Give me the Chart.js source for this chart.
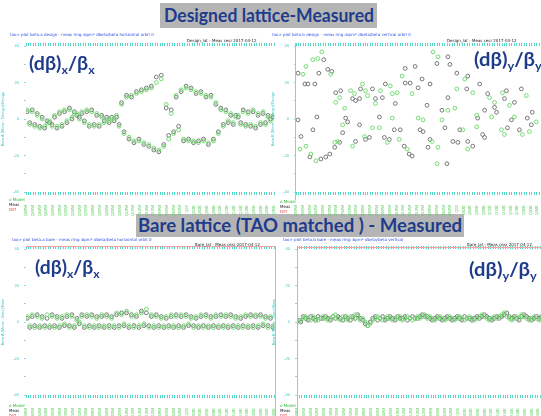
<!DOCTYPE html>
<html>
<head>
<meta charset="utf-8">
<script src="https://cdn.jsdelivr.net/npm/chart.js@4.4.1/dist/chart.umd.min.js"></script>
<style>
  body { margin: 0; width: 541px; height: 416px; overflow: hidden; background: #fff; position: relative; font-family: Lato, sans-serif; }
  canvas { position: absolute; }
  .ttl { position: absolute; background: #b5b5b5; }
  .ttl span, .lbl { position: absolute; color: #1f3c8c; font-weight: bold; white-space: nowrap; transform-origin: left top; }
  .ttl span { font-size: 18px; line-height: 22px; }
  .lbl { font-size: 19px; line-height: 20px; }
  .lbl sub { font-size: 12px; vertical-align: -4px; }
  .tiny { position: absolute; font-family: "DejaVu Sans", sans-serif; font-size: 4px; line-height: 5px; white-space: nowrap; }
  .frame { position: absolute; background: #f2a3a3; }
</style>
</head>
<body>

<div class="ttl" style="left:160px;top:3px;width:217px;height:25px"><span data-fit="210" style="left:4px;top:1px">Designed lattice-Measured</span></div>
<div class="ttl" style="left:136px;top:214px;width:328px;height:23px"><span data-fit="324" style="left:2px;top:0px">Bare lattice (TAO matched ) - Measured</span></div>

<canvas id="cx1" width="280" height="186" style="left:0;top:30px"></canvas>
<canvas id="cy1" width="280" height="186" style="left:270px;top:30px"></canvas>
<canvas id="cx2" width="280" height="186" style="left:0;top:233px"></canvas>
<canvas id="cy2" width="280" height="186" style="left:271px;top:233px"></canvas>

<div class="frame" style="left:295px;top:43px;width:1px;height:157px"></div>
<div class="frame" style="left:26px;top:246px;width:249px;height:1px"></div>
<div class="frame" style="left:275px;top:246px;width:1px;height:170px"></div>
<div class="frame" style="left:297px;top:247px;width:244px;height:1px"></div>
<div class="frame" style="left:297px;top:247px;width:1px;height:169px"></div>

<div class="lbl" data-fit="66" style="left:29px;top:53px">(dβ)<sub>x</sub>/β<sub>x</sub></div>
<div class="lbl" data-fit="68" style="left:474px;top:49px">(dβ)<sub>y</sub>/β<sub>y</sub></div>
<div class="lbl" data-fit="65" style="left:35px;top:257px">(dβ)<sub>x</sub>/β<sub>x</sub></div>
<div class="lbl" data-fit="68" style="left:469px;top:259px">(dβ)<sub>y</sub>/β<sub>y</sub></div>

<div class="tiny" style="left:10px;top:32px;color:#3050e0">tao&gt; plot beta.a  design - meas  ring::bpm*  dbeta/beta  horizontal  orbit 0</div>
<div class="tiny" style="left:187px;top:38px;color:#222">Design_lat - Meas   cesr   2017-04-12</div>
<div class="tiny" style="left:272px;top:32px;color:#3050e0">tao&gt; plot beta.b  design - meas  ring::bpm*  dbeta/beta  vertical  orbit 0</div>
<div class="tiny" style="left:447px;top:38px;color:#222">Design_lat - Meas   cesr   2017-04-12</div>
<div class="tiny" style="left:12px;top:237px;color:#3050e0">tao&gt; plot beta.a  bare - meas  ring::bpm*  dbeta/beta  horizontal  orbit 0</div>
<div class="tiny" style="left:195px;top:242px;color:#222">Bare_lat - Meas   cesr   2017-04-12</div>
<div class="tiny" style="left:283px;top:237px;color:#3050e0">tao&gt; plot beta.b  bare - meas  ring::bpm*  dbeta/beta  vertical</div>
<div class="tiny" style="left:467px;top:242px;color:#222">Bare_lat - Meas   cesr   2017-04-12</div>

<div class="tiny" style="left:9px;top:197px"><span style="color:#33bb33">o Model</span><br><span style="color:#222">Meas</span><br><span style="color:#e04040">Diff</span></div>
<div class="tiny" style="left:280px;top:199px"><span style="color:#33bb33">o Model</span><br><span style="color:#222">Meas</span><br><span style="color:#e04040">Diff</span></div>
<div class="tiny" style="left:9px;top:403px"><span style="color:#33bb33">o Model</span><br><span style="color:#222">Meas</span><br><span style="color:#e04040">Diff</span></div>
<div class="tiny" style="left:280px;top:403px"><span style="color:#33bb33">o Model</span><br><span style="color:#222">Meas</span><br><span style="color:#e04040">Diff</span></div>

<script>
// BPM names shown under each panel
const bpmNames = ["Q48W","Q46W","Q44W","Q42W","Q40W","Q38W","Q36W","Q34W","Q32W","Q30W",
  "Q28W","Q26W","Q24W","Q22W","Q20W","Q18W","Q16W","Q14W","Q12W","Q10W",
  "Q08W","Q06W","Q04W","Q02W","Q00","Q02E","Q04E","Q06E","Q08E","Q10E",
  "Q12E","Q14E","Q16E","Q18E","Q20E","Q22E","Q24E","Q26E"];

// designed lattice - measured, horizontal (one value per BPM, %)
const dxGreen = [5,-3,4,-4,2,-5,0,-4,-2,-1, -4,2,-4,4,-3,5,-1,5,1,3, 3,0,4,-2,5,-3,4,-4,3,-3, 1,-2,0,-1,0,0,2,
  -4,8,-8,12,-10,13,-12,14,-12,15, -13,16,-14,17,-16,20,-17,22,-15,8, -11,3,-8,13,-6,16,-11,17,-12,16,
  -12,15,-13,14,-12,13,-13,12,-12,9, -8,5,
  -4,4,-1,3,-2,1,2,-3,4,-4, 3,-3,5,-4,3,-2,4,-3,1,-1, 2];
const dxBlack = [4,-2,5,-3,3,-4,1,-5,-1,-2, -3,1,-5,3,-4,4,-2,6,0,4, 2,1,3,-1,4,-4,5,-3,2,-4, 2,-1,1,-2,1,-1,1,
  -3,9,-7,13,-11,12,-13,15,-11,16, -14,17,-15,18,-17,23,-18,24,-14,6, -9,5,-7,12,-4,15,-12,18,-11,17,
  -13,14,-12,15,-11,12,-14,13,-11,8, -7,6,
  -3,5,-2,2,-3,2,1,-2,5,-3, 4,-4,4,-5,2,-3,3,-2,2,0, 1];

// designed lattice - measured, vertical ([position, %])
const dyGreen = [[2.8,24.5],[4,28.8],[6.8,32.5],[8.8,33.1],[10.4,36.8],[14,24.5],[4,-14.9],[1.6,-16.5],
  [6,-19.2],[8,-22.9],[15.6,-12.8],[16.8,-12.3],[16,9.1],[17.6,11.7],[19.6,5.9],[18.8,-3.2],[22,15.5],
  [23.6,13.9],[22.8,-14.9],[27.6,-9.6],[26.8,19.2],[28,15.5],[28.8,12.8],[32,8.5],[30.8,-4.8],[33.6,-4.8],
  [34,15.5],[38,18.1],[38.8,13.9],[40.8,14.4],[36.8,-12.8],[38.8,0.5],[41.6,-11.2],[42.8,23.5],[46.8,13.9],
  [44.8,-16.5],[55.2,36.8],[57.2,34.1],[49.2,0.5],[51.2,-0.5],[57.2,-15.5],[54.8,-12.3],[56.8,-24.5],
  [61.2,4.8],[58.8,-0.5],[64,5.9],[64.8,16.5],[68,21.9],[67.2,-5.9],[69.2,-16.5],[71.2,14.4],[72.8,2.1],
  [72.8,-4.3],[78,11.7],[80,9.1],[78.8,1.1],[83.2,14.4],[86,7.5],[82.8,-5.9],[84,-8.5],[88,1.1],[92.8,12.8],
  [91.2,-8.5],[96.8,-1.6],[94,-6.9]];
const dyBlack = [[0.8,25.1],[3.6,19.2],[4.8,19.2],[7.6,19.2],[11.2,32.5],[9.2,25.1],[12.8,27.2],[14.4,26.1],
  [0.8,-0.5],[2,-9.6],[5.6,-20.8],[10,-21.9],[12,-20.8],[13.6,-19.2],[6.8,-5.9],[8.4,1.1],[15.6,-15.5],
  [17.6,-12.8],[16,14.4],[18,15.5],[20,0.5],[20.8,-1.6],[18.8,-7.5],[24,10.1],[22.8,11.2],[25.6,11.2],
  [24,-12.3],[25.6,-3.2],[28,-11.2],[29.6,-10.1],[26,16.5],[30.8,16.5],[32,11.2],[34.8,11.7],[33.6,1.1],
  [36,19.2],[40,8.5],[35.6,-10.1],[37.6,-11.2],[39.6,-5.9],[42,-5.9],[44,27.7],[44,19.7],[46,19.7],
  [43.6,-14.9],[45.6,-19.2],[46.8,-20.3],[56.8,30.4],[61.2,34.1],[62,29.9],[64.8,25.1],[48,28.8],[50.8,21.9],
  [49.2,17.1],[54,19.2],[52.8,7.5],[50,-5.9],[51.2,-6.9],[54,-11.2],[53.2,-15.5],[60.8,-24.5],[58.8,4.8],
  [60,-4.8],[61.2,11.7],[69.2,23.5],[68.8,16.5],[63.2,-12.3],[65.2,-12.8],[66,-5.9],[69.2,-12.3],[71.2,-14.9],
  [73.2,0.5],[74,19.2],[76,4.8],[75.2,-8.5],[76,-10.1],[77.2,13.9],[80,6.4],[80.8,3.7],[84.8,15.5],[84,11.2],
  [85.2,-4.8],[86.8,-0.5],[88,9.1],[90.8,16.5],[90,-5.9],[93.2,0.5],[94.8,-3.2],[95.2,3.7]];

// bare lattice (TAO matched) - measured, horizontal (%)
const bxGreen = [3,-2,4,-3,3,-2,2,-3,4,-2, 3,-3,2,-2,3,-1,4,-3,3,-2, 1,0,3,-2,4,-3,3,-2,2,-3,
  4,-2,3,-3,2,-2,5,-3,4,-1, 6,-2,3,-3,4,-2,5,-1,7,-3, 4,-2,3,-3,2,-2,3,-3,4,-2,
  3,-3,4,-2,3,-1,2,-3,3,-2, 4,-3,3,-2,2,-3,4,-2,3,-3, 4,-2,3,-3,2,-2,3,-3,4,-2, 3,-3,4,-2,3,-1,2,-3,3,-2];
const bxBlack = [2,-3,3,-2,4,-3,3,-2,2,-3, 4,-2,3,-3,2,-2,3,-2,4,-3, 2,-1,4,-3,3,-2,4,-3,3,-2,
  3,-3,4,-2,3,-3,4,-2,5,-2, 5,-3,4,-2,3,-3,6,-2,5,-2, 3,-3,4,-2,3,-3,2,-2,3,-3,
  4,-2,3,-3,4,-2,3,-2,2,-3, 3,-2,4,-3,3,-2,3,-3,4,-2, 3,-3,4,-2,3,-3,2,-2,3,-3, 4,-2,3,-3,4,-2,3,-2,2,-3];

// bare lattice (TAO matched) - measured, vertical (%)
const byGreen = [0,1,2,3,2,1,3,2,1,2, 3,2,1,2,3,4,2,1,3,2, 1,3,2,4,3,1,2,0,-2,-1,
  1,2,3,2,1,2,3,2,1,2, 2,3,1,2,3,2,1,2,3,2, 3,4,2,3,2,1,2,3,2,1,
  2,3,2,1,2,3,2,1,2,3, 2,1,2,3,4,3,2,1,2,3, 2,3,4,5,3,2,1,2,3,2, 4,3,2,1,2,3,2,1,2,3];
const byBlack = [1,0,3,2,1,3,2,1,3,2, 2,3,2,1,3,2,3,2,1,3, 2,1,3,2,4,2,1,-1,-2,0,
  2,3,1,2,3,1,2,3,2,1, 3,2,2,3,1,2,3,2,2,3, 4,3,3,2,1,2,3,2,1,2,
  3,2,1,2,3,2,1,3,2,2, 1,2,3,2,3,4,3,2,1,2, 3,2,3,4,5,3,2,3,2,1, 3,4,3,2,1,2,3,2,3,2];

function perBpm(values) {
  return values.map((v, i) => ({ x: i + 0.5, y: v }));
}
function pairs(list) {
  return list.map(([x, y]) => ({ x, y }));
}

function makePanel(id, green, black, axisTitle) {
  const cyan = "#52d8c6";
  new Chart(document.getElementById(id), {
    type: "scatter",
    data: {
      datasets: [
        { label: "Model", data: green, borderColor: "#72dc72" },
        { label: "Meas", data: black, borderColor: "#767676" },
      ],
    },
    options: {
      responsive: false,
      animation: false,
      layout: { padding: { right: 5 } },
      plugins: { legend: { display: false }, tooltip: { enabled: false } },
      elements: {
        point: { radius: 1.9, borderWidth: 1, backgroundColor: "rgba(255,255,255,0)" },
      },
      scales: {
        xt: {
          type: "linear", position: "top", min: 0, max: 100,
          ticks: { display: false, stepSize: 1 },
          grid: { drawOnChartArea: false, color: cyan, tickLength: 3 },
          border: { display: false },
          afterFit: (s) => { s.height = 16; },
        },
        x: {
          type: "linear", position: "bottom", min: 0, max: 100,
          ticks: { display: false, stepSize: 1 },
          grid: { drawOnChartArea: false, color: cyan, tickLength: 3 },
          border: { display: false },
          afterFit: (s) => { s.height = 4; },
        },
        xl: {
          type: "linear", position: "bottom", min: 0, max: 100,
          grid: { display: false },
          border: { display: false },
          ticks: {
            stepSize: 2.7, autoSkip: false, minRotation: 90, maxRotation: 90, padding: 1,
            color: "#5ccc5c", font: { size: 4 },
            callback: (v, i) => bpmNames[i] || "",
          },
          afterFit: (s) => { s.height = 20; },
        },
        y: {
          min: -40, max: 40,
          ticks: {
            stepSize: 10, color: "#40c8c0", font: { size: 4 }, padding: 5,
            callback: (v) => (v % 20 === 0 ? String(v) : ""),
          },
          grid: { drawOnChartArea: false, color: "#9fcfd8", tickLength: 2 },
          border: { display: false },
          title: { display: true, text: axisTitle, color: "#40c8c0", font: { size: 4 }, padding: 0 },
          afterFit: (s) => { s.width = 26; },
        },
      },
    },
  });
}

makePanel("cx1", perBpm(dxGreen), perBpm(dxBlack), "Beta A [Meas - Design]/Design");
makePanel("cy1", pairs(dyGreen), pairs(dyBlack), "Beta B [Meas - Design]/Design");
makePanel("cx2", perBpm(bxGreen), perBpm(bxBlack), "Beta A [Meas - Bare]/Bare");
makePanel("cy2", perBpm(byGreen), perBpm(byBlack), "Beta B [Meas - Bare]/Bare");

// squeeze slide texts to the widths they take in the picture
document.querySelectorAll("[data-fit]").forEach((el) => {
  const w = parseFloat(el.dataset.fit);
  el.style.transform = `scaleX(${w / el.scrollWidth})`;
});
</script>
</body>
</html>
